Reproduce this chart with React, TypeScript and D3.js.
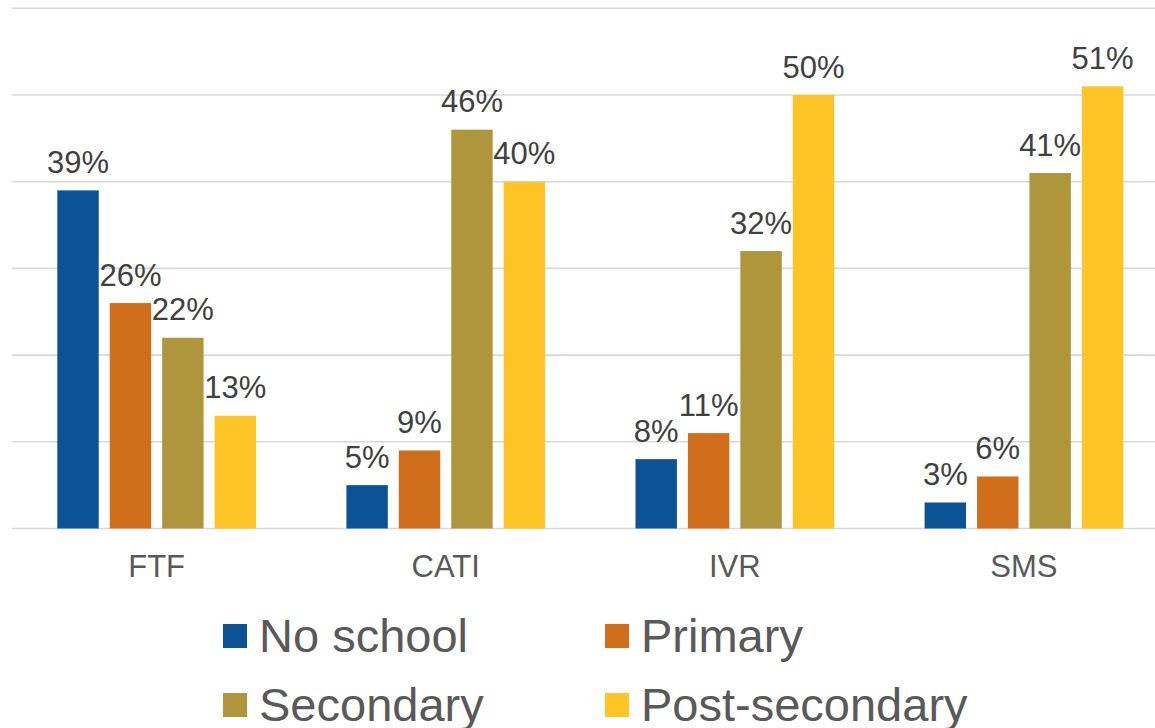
import React from "react";
import * as d3 from "d3";

// Survey mode by education level (share of respondents, %)
const modes = ["FTF", "CATI", "IVR", "SMS"];
const levels = ["No school", "Primary", "Secondary", "Post-secondary"];
const noSchool = [39, 5, 8, 3];
const primary = [26, 9, 11, 6];
const secondary = [22, 46, 32, 41];
const postSecondary = [13, 40, 50, 51];
const yTicks = [0, 10, 20, 30, 40, 50, 60];
const colors = ["#0B5394", "#D06E1C", "#AF953C", "#FFC425"];

const seriesValues = [noSchool, primary, secondary, postSecondary];

const W = 1155;
const H = 728;
const FONT = "'Liberation Sans', Arial, Helvetica, sans-serif";

export default function App() {
  const x0 = d3
    .scaleBand<string>()
    .domain(modes)
    .range([12.1, 1168.5])
    .paddingInner(0.3127)
    .paddingOuter(0.15635);
  const x1 = d3
    .scaleBand<string>()
    .domain(levels)
    .range([0, x0.bandwidth()])
    .paddingInner(0.21);
  const y = d3.scaleLinear().domain([0, 60]).range([528.5, 8.3]);

  const legendPos = [
    { x: 223, y: 624 },
    { x: 605, y: 624 },
    { x: 223, y: 693 },
    { x: 605, y: 693 },
  ];

  return (
    <svg
      width={W}
      height={H}
      style={{ position: "absolute", left: 0, top: 0, background: "#fff" }}
      fontFamily={FONT}
    >
      {/* horizontal gridlines */}
      <g>
        {yTicks.map((t) => (
          <line
            key={t}
            x1={12}
            x2={W}
            y1={y(t)}
            y2={y(t)}
            stroke="#D9D9D9"
            strokeWidth={1.6}
          />
        ))}
      </g>

      {/* bars and value labels */}
      {modes.map((m, i) => (
        <g key={m} transform={`translate(${x0(m)},0)`}>
          {levels.map((lv, s) => {
            const v = seriesValues[s][i];
            const bx = x1(lv) as number;
            const bw = x1.bandwidth();
            return (
              <g key={lv}>
                <rect
                  x={bx}
                  y={y(v)}
                  width={bw}
                  height={y(0) - y(v)}
                  fill={colors[s]}
                />
                <text
                  x={bx + bw / 2}
                  y={y(v) - 17.5}
                  textAnchor="middle"
                  fontSize={31}
                  fill="#404040"
                >
                  {`${v}%`}
                </text>
              </g>
            );
          })}
          <text
            x={x0.bandwidth() / 2}
            y={577}
            textAnchor="middle"
            fontSize={31}
            fill="#595959"
          >
            {m}
          </text>
        </g>
      ))}

      {/* legend */}
      {levels.map((lv, s) => (
        <g key={lv}>
          <rect
            x={legendPos[s].x}
            y={legendPos[s].y}
            width={24}
            height={24}
            fill={colors[s]}
          />
          <text
            x={legendPos[s].x + 36}
            y={legendPos[s].y + 27.5}
            fontSize={47}
            fill="#595959"
          >
            {lv}
          </text>
        </g>
      ))}
    </svg>
  );
}
